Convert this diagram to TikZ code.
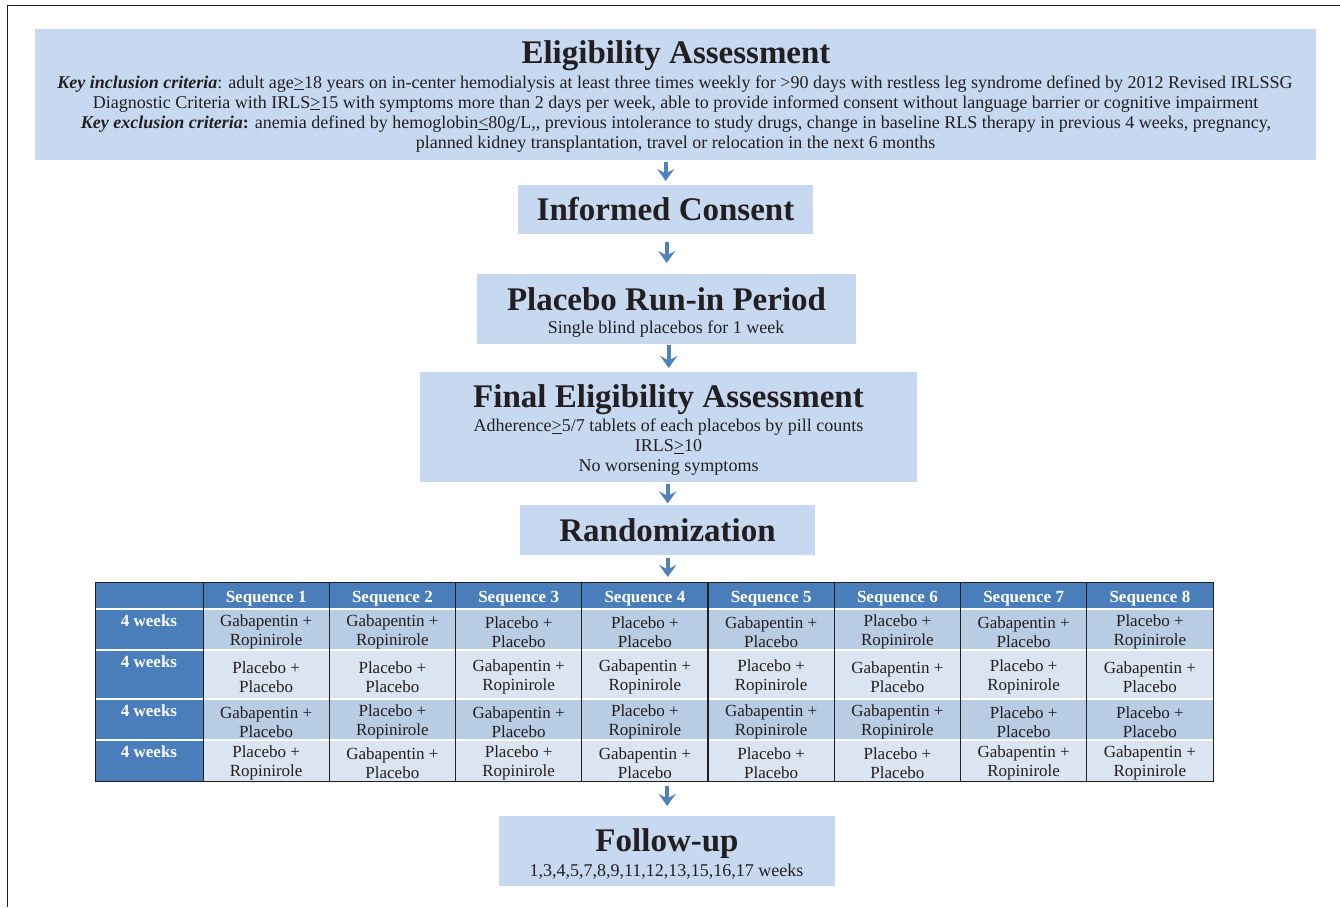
\documentclass[tikz,border=0pt]{standalone}
\usepackage{fontspec}
\setmainfont{Liberation Serif}
\usetikzlibrary{arrows.meta}
\definecolor{boxfill}{HTML}{C6D9F0}
\definecolor{arrowblue}{HTML}{4F81BD}
\definecolor{hdrblue}{HTML}{4A7EBB}
\definecolor{rowdark}{HTML}{B8CCE4}
\definecolor{rowlight}{HTML}{DBE5F1}
\definecolor{ink}{HTML}{231F20}
\def\GR{Gabapentin +\\Ropinirole}
\def\GP{Gabapentin +\\Placebo}
\def\PR{Placebo +\\Ropinirole}
\def\PP{Placebo +\\Placebo}
\begin{document}
\begin{tikzpicture}[x=1pt,y=-1pt,
  flowbox/.style={fill=boxfill, draw=none, inner sep=0pt, anchor=north west},
  titletext/.style={font=\fontsize{33}{36}\selectfont\bfseries, text=ink, inner sep=0pt, anchor=base},
  bodytext/.style={font=\fontsize{18}{20}\selectfont, text=ink, inner sep=0pt, anchor=base},
  celltext/.style={font=\fontsize{17}{19.5}\selectfont, text=ink, inner sep=0pt, align=center},
  hdrtext/.style={font=\fontsize{17}{19.5}\selectfont\bfseries, text=white, inner sep=0pt, anchor=base},
  flowarrow/.style={draw=arrowblue, line width=4pt, -{Stealth[length=12pt,width=17pt,inset=4.5pt]}}
]
\useasboundingbox (0,0) rectangle (1340,907);
% page frame
\draw[ink, line width=1.3pt] (7.5,907) -- (7.5,5.5) -- (1340,5.5);

% boxes
\node[flowbox, minimum width=1281pt, minimum height=131pt] (elig) at (35,29) {};
\node[flowbox, minimum width=295pt, minimum height=49pt] (consent) at (518,185) {};
\node[flowbox, minimum width=379pt, minimum height=70pt] (placebo) at (477,274) {};
\node[flowbox, minimum width=497pt, minimum height=110pt] (final) at (420,372) {};
\node[flowbox, minimum width=295pt, minimum height=50pt] (random) at (520,505) {};
\node[flowbox, minimum width=336pt, minimum height=70pt] (follow) at (499,816) {};

% texts
\node[titletext] (eligT) at (676,63.3) {Eligibility Assessment};
\node[bodytext] (eligL1) at (675,88) {\textbf{\textit{Key inclusion criteria}}: adult age\underline{>}18 years on in-center hemodialysis at least three times weekly for >90 days with restless leg syndrome defined by 2012 Revised IRLSSG};
\node[bodytext] (eligL2) at (675.5,108) {Diagnostic Criteria with IRLS\underline{>}15 with symptoms more than 2 days per week, able to provide informed consent without language barrier or cognitive impairment};
\node[bodytext] (eligL3) at (676,128) {\textbf{\textit{Key exclusion criteria}:} anemia defined by hemoglobin\underline{<}80g/L,{}, previous intolerance to study drugs, change in baseline RLS therapy in previous 4 weeks, pregnancy,};
\node[bodytext] (eligL4) at (675.5,148) {planned kidney transplantation, travel or relocation in the next 6 months};

\node[titletext] (consentT) at (665.5,220.7) {Informed Consent};
\node[titletext] (placeboT) at (666.5,310.7) {Placebo Run-in Period};
\node[bodytext] (placeboS) at (666,333.3) {Single blind placebos for 1 week};
\node[titletext] (finalT) at (668.5,407.7) {Final Eligibility Assessment};
\node[bodytext] (finalL1) at (668.5,431.7) {Adherence\underline{>}5/7 tablets of each placebos by pill counts};
\node[bodytext] (finalL2) at (668.5,451.7) {IRLS\underline{>}10};
\node[bodytext] (finalL3) at (668.5,471.7) {No worsening symptoms};
\node[titletext] (randomT) at (667.5,541.7) {Randomization};
\node[titletext] (followT) at (667,851.7) {Follow-up};
\node[bodytext] (followS) at (666.5,876) {1,3,4,5,7,8,9,11,12,13,15,16,17 weeks};

% table
\fill[hdrblue] (95,582) rectangle (1213,609);
\foreach \k in {1,...,8}
  \node[hdrtext] (seq-\k) at ({203+126.25*(\k-0.5)},602.3) {Sequence \k};
\foreach \rr/\ytop/\ybot/\fc/\cells in {
  1/609/650/rowdark/{GR,GR,PP,PP,GP,PR,GP,PR},
  2/650/699/rowlight/{PP,PP,GR,GR,PR,GP,PR,GP},
  3/699/740/rowdark/{GP,PR,GP,PR,GR,GR,PP,PP},
  4/740/781/rowlight/{PR,GP,PR,GP,PP,PP,GR,GR}}{
  \fill[\fc] (203,\ytop) rectangle (1213,\ybot);
  \fill[hdrblue] (95,\ytop) rectangle (203,\ybot);
  \node[hdrtext] (lab-\rr) at (149,\ytop+17) {4 weeks};
  \foreach \cname [count=\ci] in \cells {
    \node[celltext] (cell-\rr-\ci) at ({203+126.25*(\ci-0.5)},{(\ytop+\ybot)/2+2.5}) {\csname\cname\endcsname};
  }
}
\foreach \yy in {609,650,699,740}
  \draw[white, line width=1.5pt] (95,\yy) -- (1213,\yy);
\foreach \k in {0,1,2,3,5,6,7}
  \draw[ink, line width=1pt] ({203+126.25*\k},582) -- ({203+126.25*\k},781);
\draw[ink, line width=1.8pt] (708,582) -- (708,781);
\node[draw=ink, line width=1.3pt, inner sep=0pt, minimum width=1118pt, minimum height=199pt, anchor=north west] (tbl) at (95,582) {};

% arrows
\draw[flowarrow, shorten <=2pt, shorten >=4pt] (elig.south -| consent.north) -- (consent.north);
\draw[flowarrow, shorten <=8pt, shorten >=11pt] (consent.south -| placebo.north) -- (placebo.north);
\draw[flowarrow, shorten <=1pt, shorten >=4pt] (placebo.south -| final.north) -- (final.north);
\draw[flowarrow, shorten <=1.3pt, shorten >=1.5pt] (final.south -| random.north) -- (random.north);
\draw[flowarrow, shorten <=3pt, shorten >=5pt] (random.south) -- (random.south |- tbl.north);
\draw[flowarrow, shorten <=4pt, shorten >=10pt] (tbl.south -| follow.north) -- (follow.north);
\end{tikzpicture}
\end{document}
